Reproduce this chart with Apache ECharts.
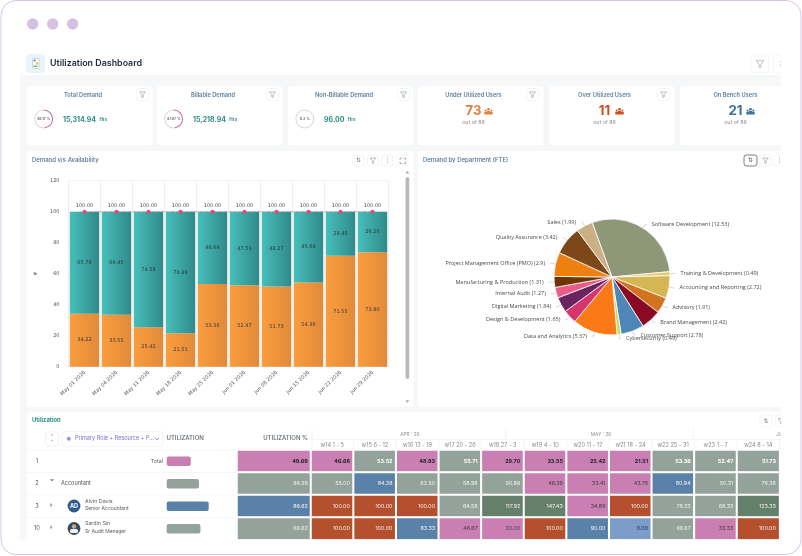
<!DOCTYPE html>
<html><head><meta charset="utf-8">
<style>html,body{margin:0;padding:0;background:#fff}#c{width:802px;height:556px;filter:blur(0.45px)}</style>
<script src="https://cdn.jsdelivr.net/npm/echarts@6/dist/echarts.min.js"></script>
</head><body><div id="c"></div>
<script>
// ---- data ----
const weekStarts = ['May 01 2026','May 04 2026','May 11 2026','May 18 2026','May 25 2026','Jun 01 2026','Jun 08 2026','Jun 15 2026','Jun 22 2026','Jun 29 2026'];
const demandPct = [34.22,33.55,25.42,21.51,53.36,52.47,51.73,54.36,71.55,73.80];
const availabilityPct = [65.78,66.45,74.58,78.49,46.64,47.53,48.27,45.64,28.45,26.20];
const capacityPct = [100,100,100,100,100,100,100,100,100,100];
const deptNames = ['Software Development','Training & Development','Accounting and Reporting','Advisory','Brand Management','Customer Support','Cybersecurity','Data and Analytics','Design & Development','Digital Marketing','Internal Audit','Manufacturing & Production','Project Management Office (PMO)','Quality Assurance','Sales'];
const deptFte = [12.53,0.49,2.72,1.91,2.42,2.78,0.49,5.37,1.65,1.84,1.27,1.31,2.9,3.42,1.99];
const deptColors = ['#8e9879','#e6cb6c','#d5b654','#d2741f','#8a0a24','#4f86b8','#c9dc6a','#fb7a17','#d7356d','#6a2560','#ea5c87','#6e3502','#ee8012','#7d4719','#cbb083'];
const tableWeeks = ['w14 1 - 5','w15 6 - 12','w16 13 - 19','w17 20 - 26','w18 27 - 3','w19 4 - 10','w20 11 - 17','w21 18 - 24','w22 25 - 31','w23 1 - 7','w24 8 - 14'];
const rowKeys = ['Total','Accountant','Alvin Davis','Sardin Sin'];
const rowNumbers = ['1','2','3','10'];
const utilTotal = [49.69,66.59,86.62,69.62];
const utilTotalRow = [46.68,53.52,48.93,55.71,29.70,33.55,25.42,21.51,53.36,52.47,51.73];
const utilAccountant = [55.00,84.38,62.50,58.98,50.86,46.39,33.41,43.75,80.94,50.31,79.38];
const utilAlvin = [100,100,100,64.58,117.92,147.43,34.86,100,78.33,68.33,123.33];
const utilSardin = [100,100,83.33,46.67,20.00,100,90.00,0.00,66.67,33.33,100];
const kpiRing = [['Total Demand','15,314.94',48.17],['Billable Demand','15,218.94',47.87],['Non-Billable Demand','96.00',0.3]];
const kpiUsers = [['Under Utilized Users','73','#e17f3c'],['Over Utilized Users','11','#c94c20'],['On Bench Users','21','#3f6f9b']];

// ---- helpers ----
const F='Inter, "Noto Sans", sans-serif';
const g=[];
const R=(x,y,w,h,fill,r,stroke,z)=>g.push({type:'rect',z:z||0,silent:true,shape:{x,y,width:w,height:h,r:r||0},style:{fill:fill||'transparent',stroke:stroke||null,lineWidth:stroke?0.7:0}});
const T=(text,x,y,o)=>{o=o||{};g.push({type:'text',z:o.z||5,silent:true,x,y,rotation:o.rot||0,style:{text,fill:o.c||'#555',font:(o.w||400)+' '+(o.s||6)+'px '+(o.f||F),textAlign:o.a||'left',textVerticalAlign:'middle'}});};
const C=(cx,cy,r,fill,z)=>g.push({type:'circle',z:z||3,silent:true,shape:{cx,cy,r},style:{fill}});
const L=(pts,stroke,lw,z,dash)=>g.push({type:'polyline',z:z||4,silent:true,shape:{points:pts},style:{stroke,lineWidth:lw||0.7,fill:'transparent',lineDash:dash||null}});
function funnel(cx,cy,s,col){s=s||1;L([[cx-3*s,cy-2.6*s],[cx+3*s,cy-2.6*s],[cx+0.7*s,cy+0.2*s],[cx+0.7*s,cy+2.8*s],[cx-0.7*s,cy+2.8*s],[cx-0.7*s,cy+0.2*s],[cx-3*s,cy-2.6*s]],col||'#8a949c',0.6);}
function btn(x,y,w,h,stroke){R(x,y,w,h,'#fff',2.5,stroke||'#eceff1',1);}
function filterBtn(x,y){btn(x,y,12,12);funnel(x+6,y+6);}
function people(cx,cy,col){
  C(cx-2.9,cy-1.1,1,col,6);C(cx+2.9,cy-1.1,1,col,6);C(cx,cy-2.2,1.3,col,6);
  R(cx-4.2,cy+0.2,2.6,2.8,col,0.6,null,6);R(cx+1.6,cy+0.2,2.6,2.8,col,0.6,null,6);R(cx-1.9,cy-0.5,3.8,3.5,col,0.7,null,6);
}

// ---- page chrome ----
R(20,75,762,465,'#f5f7f8',0);
[[32.7],[52.7],[72.7]].forEach(p=>C(p[0],24,5.7,'#d5c1e4',3));
R(26,54,19,19,'#eaf5fa',4);
R(32.5,58.5,6.5,10,'#fff',1,'#b9c5cc');C(34.5,60.5,1.1,'#4d7fb0',4);C(37,63.5,1.3,'#e7c94f',4);R(33.5,65.5,4,1.6,'#7ab07a',0.4,null,4);
T('Utilization Dashboard',50,63.5,{s:8.9,w:600,c:'#1f2933'});
btn(751,55,18,18);funnel(760,64,1.25);btn(773,55,18,18);T('⛶',782,64,{s:7,a:'center',c:'#8a949c',f:'DejaVu Sans'});

// KPI cards
const ringX=[27,157,288];
kpiRing.forEach((k,i)=>{
  const x=ringX[i];
  R(x,86,125.5,59.5,'#fff',3.5);
  T(k[0],x+56,94.8,{s:5.7,w:600,c:'#5d7f98',a:'center'});
  filterBtn(x+109.5,88.5);
  T(k[2]+' %',x+16.7,119,{s:3.6,w:500,c:'#444',a:'center'});
  g.push({type:'text',z:5,silent:true,x:x+36,y:120,style:{rich:{v:{font:'700 7px '+F,fill:'#2f8d87'},u:{font:'700 4.6px '+F,fill:'#2f8d87'}},text:'{v|'+k[1]+'} {u|Hrs}',textVerticalAlign:'middle'}});
});
const userX=[418,549,680];
kpiUsers.forEach((k,i)=>{
  const x=userX[i];
  R(x,86,125.5,59.5,'#fff',3.5);
  T(k[0],x+55.5,94.8,{s:5.7,w:600,c:'#5d7f98',a:'center'});
  filterBtn(x+108.5,88.5);
  T(k[1],x+55.5,111.5,{s:13.2,w:700,c:k[2],a:'center'});
  people(x+70.5,111.5,k[2]);
  T('out of 86',x+55.5,122.5,{s:5.3,c:'#8d9297',a:'center'});
});

// panels
R(27,151,386.5,256,'#fff',3.5);
R(418,151,370,256,'#fff',3.5);
R(27,412,760,135,'#fff',3.5);
T('Demand v/s Availability',32,160.5,{s:6,w:500,c:'#4f7290'});
T('Demand by Department (FTE)',423,160.5,{s:6,w:500,c:'#4f7290'});
T('Utilization',32,420.6,{s:5.8,w:700,c:'#2c8f8a'});
// left toolbar
btn(353,155,11,11);T('⇅',358.5,160.5,{s:6,a:'center',c:'#7b848b',f:'DejaVu Sans'});
btn(367.5,155,11,11);funnel(373,160.5,0.95);
btn(382,155,11,11);T('⋮',387.5,160.5,{s:7,a:'center',c:'#7b848b',f:'DejaVu Sans'});
btn(397,155,11,11);L([[400,160],[400,158],[402,158]],'#7b848b',0.6);L([[403.5,158],[405.5,158],[405.5,160]],'#7b848b',0.6);L([[400,161.5],[400,163.5],[402,163.5]],'#7b848b',0.6);L([[403.5,163.5],[405.5,163.5],[405.5,161.5]],'#7b848b',0.6);
// right toolbar
btn(744,155,13,11,'#444');T('⇅',750.5,160.5,{s:6,a:'center',c:'#555',f:'DejaVu Sans'});
btn(760,155,11,11);funnel(765.5,160.5,0.95);
btn(774,155,11,11);T('⋮',779.5,160.5,{s:7,a:'center',c:'#7b848b',f:'DejaVu Sans'});
// scrollbar
R(405.6,177,3.6,202,'#b6b8ba',1.8,null,6);
g.push({type:'polygon',z:6,silent:true,shape:{points:[[407.4,170.8],[409.4,173.5],[405.4,173.5]]},style:{fill:'#a9aeb2'}});
g.push({type:'polygon',z:6,silent:true,shape:{points:[[407.4,403],[409.4,400.3],[405.4,400.3]]},style:{fill:'#a9aeb2'}});

// table chrome
R(46,432,12.5,14,'#fff',2.5,'#e6e9eb',1);
T('⌃',52.2,437,{s:5,a:'center',c:'#777',f:'DejaVu Sans'});T('⌄',52.2,440,{s:5,a:'center',c:'#777',f:'DejaVu Sans'});
R(62,431.5,101,15,'#fff',3,'#eef0f2',1);
C(68.8,438.7,2,'#9f90e0',4);
T('Primary Role + Resource + P...',75,438.7,{s:5.5,c:'#7a6fd0'});
L([[155,437.8],[157,439.8],[159,437.8]],'#6a62c4',0.8);
T('UTILIZATION',166.5,438.5,{s:6,w:500,c:'#5b6268'});
T('UTILIZATION %',308,438.5,{s:6,w:500,c:'#5b6268',a:'right'});
L([[312,429],[312,449]],'#e4e7e9',0.6);L([[312,439.5],[790,439.5]],'#eceff1',0.6);L([[505.7,429],[505.7,439.5]],'#e4e7e9',0.6);L([[693.3,429],[693.3,439.5]],'#e4e7e9',0.6);
tableWeeks.forEach((w,i)=>L([[353.6+i*42.6,439.5],[353.6+i*42.6,449]],'#eceff1',0.6));
T("APR ' 26",410,434.5,{s:4.8,c:'#8b9298',a:'center'});
T("MAY ' 26",601,434.5,{s:4.8,c:'#8b9298',a:'center'});
T("JUN ' 26",776,434.5,{s:4.8,c:'#8b9298'});
btn(760,415,12,12);T('⇅',766,421,{s:6,a:'center',c:'#7b848b',f:'DejaVu Sans'});btn(775,415,12,12);funnel(781,421,0.95);
[450,472.5,495,517.5].forEach(y=>L([[27,y],[238,y]],'#eef1f2',0.6,2));
const rowY=[461,483.5,506,528];
rowNumbers.forEach((n,i)=>T(n,37,rowY[i],{s:5.6,c:'#4f565c',a:'center'}));
T(rowKeys[0],163,rowY[0],{s:5.3,c:'#5c6268',a:'right'});
g.push({type:'polygon',z:5,silent:true,shape:{points:[[49.5,479.3],[54.5,479.3],[52,481.6]]},style:{fill:'#8d9297'}});
T(rowKeys[1],61,rowY[1],{s:5.5,c:'#50575d'});
[505,527.3].forEach(y=>g.push({type:'polygon',z:5,silent:true,shape:{points:[[50.3,y-2.2],[52.6,y],[50.3,y+2.2]]},style:{fill:'#9aa0a5'}}));
C(74,506,6.4,'#2f5a8c');T('AD',74,506.2,{s:5.6,w:700,c:'#fff',a:'center'});
C(74,528.5,6.4,'#3b4a5a');C(74,526.5,2.2,'#c9a78f',4);R(70,529,8,4,'#eef0f2',1.5,null,4);
T(rowKeys[2],85,501.5,{s:5.3,c:'#5a6167'});T('Senior Accountant',85,508.8,{s:5,c:'#5a6167'});
T(rowKeys[3],85,523.7,{s:5.3,c:'#5a6167'});T('Sr Audit Manager',85,531.2,{s:5,c:'#5a6167'});

// masks + frame
R(781,40,22,520,'#fff',0,null,50);
R(0,539.5,802,18,'#fff',0,null,50);
R(1,0.5,800,554,null,15,'#d8c5e6',60);
g[g.length-1].style.lineWidth=1;

// ---- colour rule for cells ----
function cellColor(v){ if(v===0) return '#7c9dca'; if(v<50) return '#c97fb1'; if(v<80) return '#93a29a'; if(v<100) return '#5a82a9'; if(v===100) return '#b4502e'; return '#64806b'; }
function textColor(v,row){ if(row===0) return v<50?'#2a2230':'#fff'; if(v>=50&&v<80) return '#eef1ee'; if(v===0) return '#223'; if(v<50) return '#4a3a48'; return '#f4f0ee'; }
const rows=[utilTotalRow,utilAccountant,utilAlvin,utilSardin];
const cell=(x,r,v)=>({value:[x,r,v],itemStyle:{color:cellColor(v)},label:{color:textColor(v,r),fontWeight:r===0?700:400}});
const heatCells=[];rows.forEach((vals,r)=>vals.forEach((v,x)=>heatCells.push(cell(x,r,v))));
const heatTotal=utilTotal.map((v,r)=>cell(0,r,v));
const barColor=v=>({value:v,itemStyle:{color:cellColor(v),borderRadius:2}});

// ---- rings ----
const ringSeries=kpiRing.map((k,i)=>({type:'pie',silent:true,center:[ringX[i]+16.7,119],radius:[8.4,9.4],startAngle:90,label:{show:false},labelLine:{show:false},animation:false,
  data:[{value:k[2],itemStyle:{color:'#c66aa3'}},{value:100-k[2],itemStyle:{color:'#d8d8da'}}]}));

const axisText={color:'#555',fontSize:5,fontFamily:'DejaVu Sans'};
const rowCats=rowKeys;
const heatLabel=pad=>({show:true,position:[pad,'50%'],align:'right',verticalAlign:'middle',fontSize:5.4,fontFamily:F,formatter:p=>p.value[2].toFixed(2)});

const option={
  animation:false,backgroundColor:'#fff',
  graphic:{elements:g},
  grid:[
    {left:68.5,top:180.7,width:320,height:186},
    {left:166.7,top:450,width:48.5,height:90},
    {left:237,top:450,width:75,height:90},
    {left:311,top:450,width:468.6,height:90}
  ],
  xAxis:[
    {gridIndex:0,type:'category',data:weekStarts,axisTick:{show:false},axisLine:{lineStyle:{color:'#e3e6e8'}},splitLine:{show:true,interval:0,lineStyle:{color:'#e6e8ea',width:0.7}},axisLabel:{...axisText,rotate:45,interval:0,margin:5}},
    {gridIndex:1,type:'value',min:0,max:100,show:false},
    {gridIndex:2,type:'category',data:['UTILIZATION %'],show:false},
    {gridIndex:3,type:'category',data:tableWeeks,position:'top',axisLine:{show:false},axisTick:{show:false},axisLabel:{interval:0,fontSize:5.6,color:'#868d93',fontFamily:F,margin:1.5}}
  ],
  yAxis:[
    {gridIndex:0,type:'value',min:0,max:120,interval:20,name:'#',nameLocation:'middle',nameGap:30,nameRotate:90,nameTextStyle:{...axisText},axisLine:{show:false},axisTick:{show:false},splitLine:{lineStyle:{color:'#eceeef',width:0.7}},axisLabel:{...axisText,margin:9}},
    {gridIndex:1,type:'category',inverse:true,data:rowCats,show:false},
    {gridIndex:2,type:'category',inverse:true,data:rowCats,show:false},
    {gridIndex:3,type:'category',inverse:true,data:rowCats,show:false}
  ],
  series:[
    {name:'Demand',type:'bar',stack:'s',xAxisIndex:0,yAxisIndex:0,barWidth:'92%',data:demandPct,
     itemStyle:{color:{type:'linear',x:0,y:0,x2:1,y2:0,colorStops:[{offset:0,color:'#fb9d40'},{offset:1,color:'#e08a38'}]}},
     label:{show:true,position:'inside',color:'#3a3a3a',fontSize:5,fontFamily:'DejaVu Sans',formatter:p=>p.value.toFixed(2)}},
    {name:'Availability',type:'bar',stack:'s',xAxisIndex:0,yAxisIndex:0,barWidth:'92%',data:availabilityPct,
     itemStyle:{color:{type:'linear',x:0,y:0,x2:1,y2:0,colorStops:[{offset:0,color:'#47bfb9'},{offset:1,color:'#308a8b'}]}},
     label:{show:true,position:'inside',color:'#243a3a',fontSize:5,fontFamily:'DejaVu Sans',formatter:p=>p.value.toFixed(2)}},
    {name:'Capacity',type:'line',xAxisIndex:0,yAxisIndex:0,data:capacityPct,symbol:'circle',symbolSize:4,z:5,
     itemStyle:{color:'#d94c80'},lineStyle:{color:'#c98aa0',width:0.8,type:'dashed'},
     label:{show:true,position:'top',distance:1.5,color:'#555',fontSize:5,fontFamily:'DejaVu Sans',formatter:p=>p.value.toFixed(2)}},
    {name:'Demand by Department',type:'pie',center:[612,277],radius:[0,58],startAngle:110,clockwise:true,avoidLabelOverlap:false,
     data:deptNames.map((n,i)=>({name:n,value:deptFte[i],itemStyle:{color:deptColors[i]}})),
     itemStyle:{borderColor:'#fff',borderWidth:0.8},
     label:{fontSize:5.5,color:'#4a4a4a',fontFamily:'"Open Sans"',formatter:p=>p.name+' ('+p.value+')'},
     labelLayout:{hideOverlap:false},
     labelLine:{length:4,length2:1.5,lineStyle:{color:'#aaa',width:0.5}}},
    ...ringSeries,
    {name:'Utilization',type:'bar',xAxisIndex:1,yAxisIndex:1,barWidth:9.3,data:utilTotal.map(barColor)},
    {name:'Utilization %',type:'heatmap',xAxisIndex:2,yAxisIndex:2,data:heatTotal,label:heatLabel('93%'),itemStyle:{borderColor:'#fff',borderWidth:2}},
    {name:'Weekly',type:'heatmap',xAxisIndex:3,yAxisIndex:3,data:heatCells,label:heatLabel('89%'),itemStyle:{borderColor:'#fff',borderWidth:2}}
  ]
};
const chart=echarts.init(document.getElementById('c'),null,{renderer:'canvas',width:802,height:556});
chart.setOption(option);
</script></body></html>
